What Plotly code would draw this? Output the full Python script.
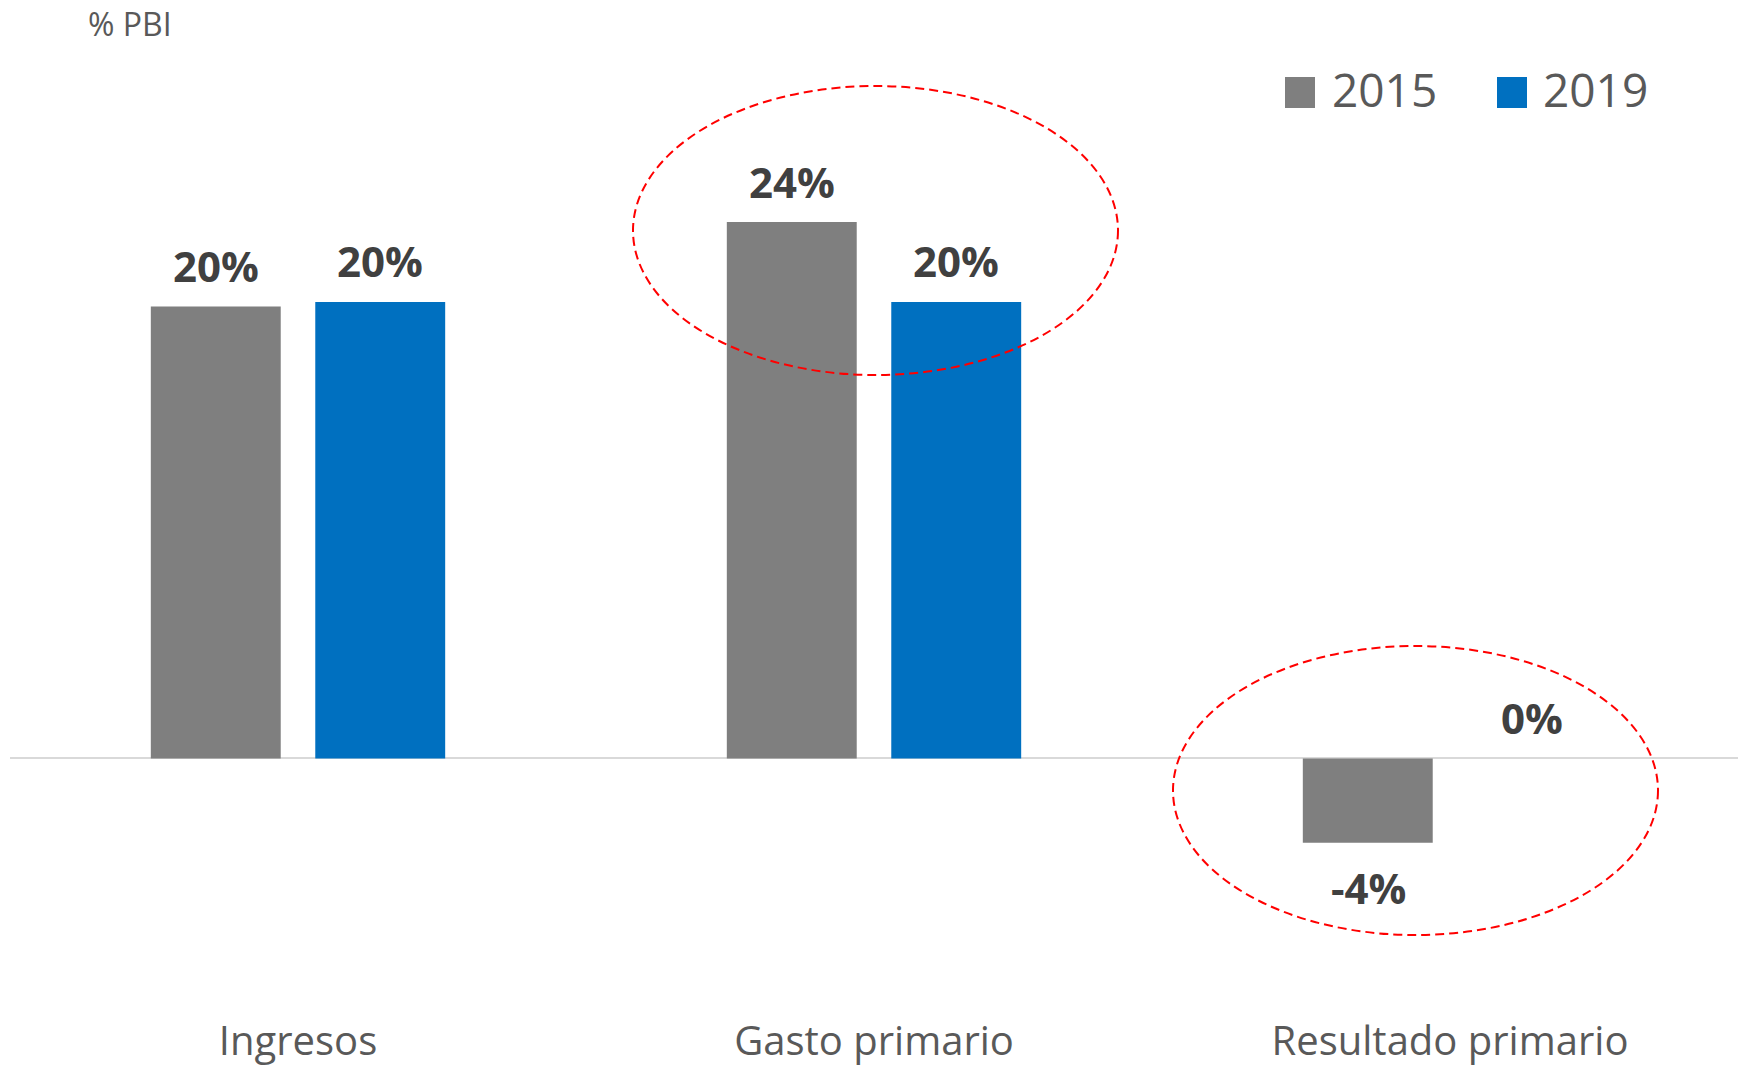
import plotly.graph_objects as go

# ---- data ----
CATEGORIES = ["Ingresos", "Gasto primario", "Resultado primario"]
SERIES = ["2015", "2019"]
VALUES_2015 = [19.8, 23.5, -3.7]
VALUES_2019 = [20.0, 20.0, 0.0]
UNIT_LABEL = "% PBI"

# ---- style ----
W, H = 1743, 1071
ML, MR, MT, MB = 10, 5, 40, 57
COLORS = {"2015": "#7F7F7F", "2019": "#0070C0"}
FONT = "Open Sans, Lato, sans-serif"
LABEL_COLOR = "#404040"
AXIS_COLOR = "#595959"
Y_RANGE = [-11.20, 31.48]
BAR_OFFSET_PX = 82

fig = go.Figure()
series_values = {"2015": VALUES_2015, "2019": VALUES_2019}
for name in SERIES:
    fig.add_trace(go.Bar(
        x=CATEGORIES, y=series_values[name], name=name,
        marker=dict(color=COLORS[name], line=dict(width=0)),
        showlegend=False, hoverinfo="x+y+name",
    ))


def px_x(p):
    return (p - ML) / (W - ML - MR)


def px_y(p):
    return (H - MB - p) / (H - MT - MB)


annotations = []
for si, name in enumerate(SERIES):
    xs = -BAR_OFFSET_PX if si == 0 else BAR_OFFSET_PX
    for cat, v in zip(CATEGORIES, series_values[name]):
        pos = v >= 0
        annotations.append(dict(
            x=cat, y=v, xref="x", yref="y", text=f"{v:.0f}%",
            showarrow=False, xshift=xs, yshift=(41 if pos else -45),
            yanchor="middle", xanchor="center",
            font=dict(family=FONT, size=42, color=LABEL_COLOR, weight="bold"),
        ))

# unit label
annotations.append(dict(
    x=px_x(86), y=px_y(23), xref="paper", yref="paper", text=UNIT_LABEL,
    showarrow=False, xanchor="left", yanchor="middle",
    font=dict(family=FONT, size=32, color=AXIS_COLOR),
))

shapes = []
# manual legend (large square swatches)
legend_items = [(1285, 1333), (1497, 1544)]
for (sx, tx), name in zip(legend_items, SERIES):
    shapes.append(dict(type="rect", xref="paper", yref="paper",
                       x0=px_x(sx), x1=px_x(sx + 30), y0=px_y(108), y1=px_y(77),
                       fillcolor=COLORS[name], line=dict(width=0)))
    annotations.append(dict(
        x=px_x(tx - 3), y=px_y(89), xref="paper", yref="paper", text=name,
        showarrow=False, xanchor="left", yanchor="middle",
        font=dict(family=FONT, size=46, color=AXIS_COLOR),
    ))

# dashed red ellipses
for (x0, x1, y0, y1) in [(633, 1118, 86, 375), (1173, 1658, 646, 935)]:
    shapes.append(dict(type="circle", xref="paper", yref="paper",
                       x0=px_x(x0), x1=px_x(x1), y0=px_y(y1), y1=px_y(y0),
                       line=dict(color="#FF0000", width=2, dash="9px,5px"),
                       fillcolor="rgba(0,0,0,0)", layer="above"))

fig.update_layout(
    width=W, height=H,
    margin=dict(l=ML, r=MR, t=MT, b=MB, autoexpand=False),
    paper_bgcolor="white", plot_bgcolor="white",
    barmode="group", bargap=0.429, bargroupgap=0.21,
    showlegend=False,
    annotations=annotations, shapes=shapes,
    xaxis=dict(showgrid=False, showline=False, ticks="", automargin=False,
               tickfont=dict(family=FONT, size=40, color=AXIS_COLOR)),
    yaxis=dict(range=Y_RANGE, showgrid=False, showticklabels=False, ticks="",
               zeroline=True, zerolinecolor="#D9D9D9", zerolinewidth=2,
               automargin=False),
)

fig.write_html("out.html")
